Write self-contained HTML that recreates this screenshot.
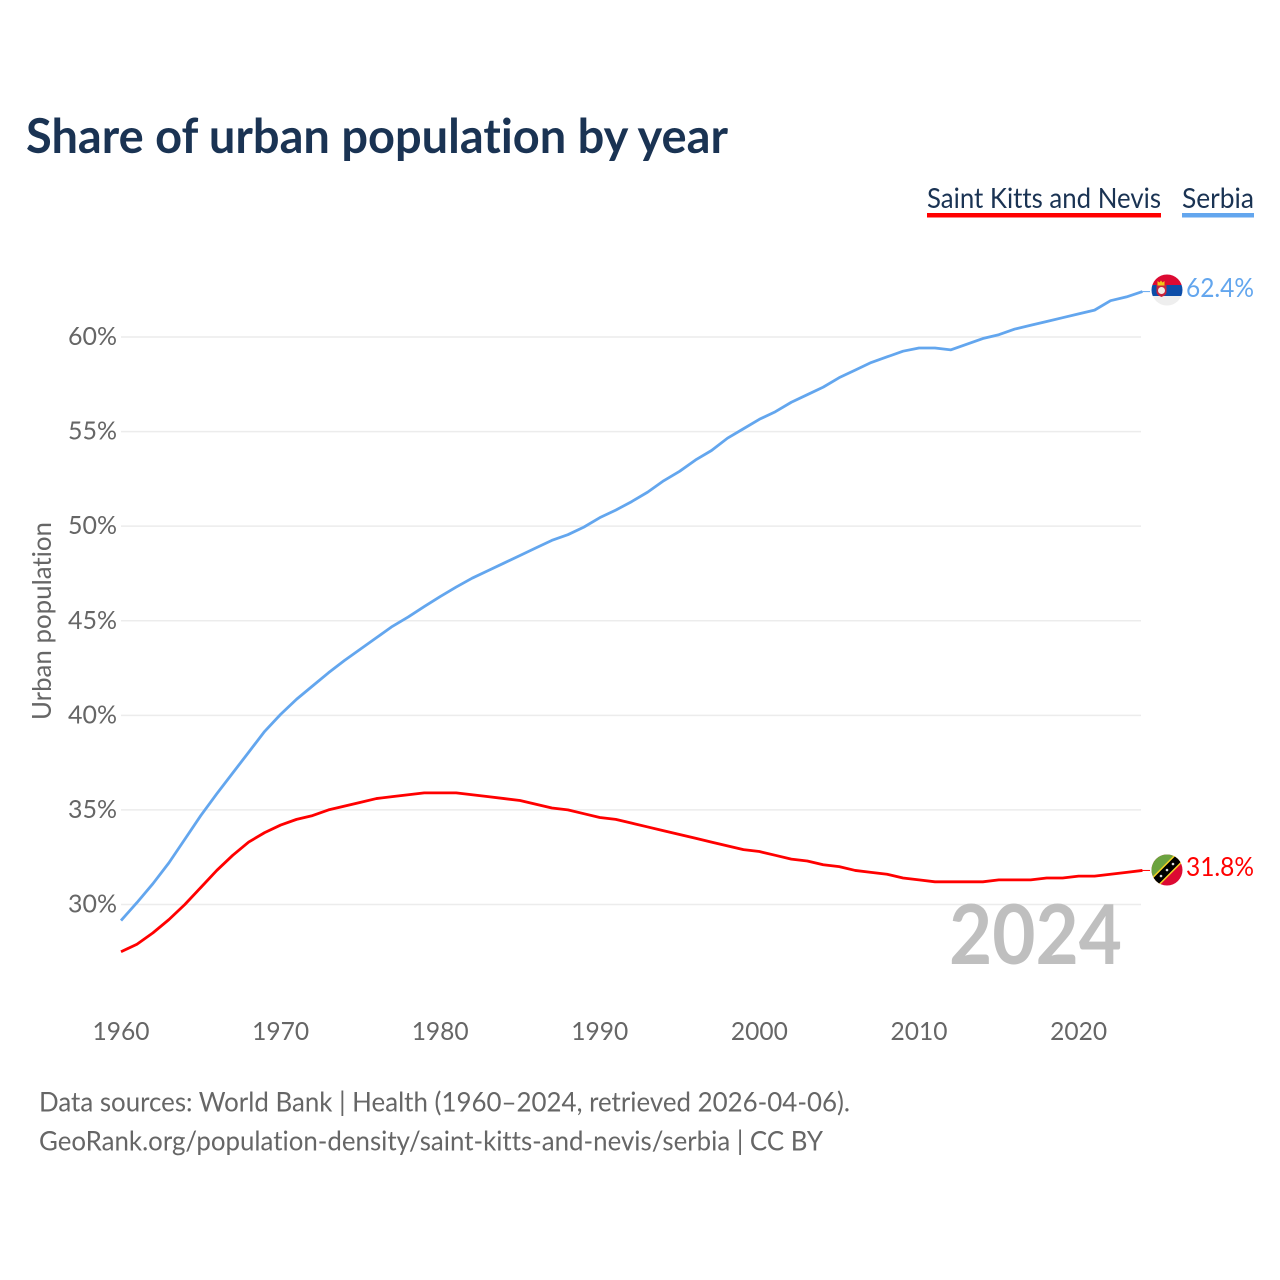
<!DOCTYPE html>
<html lang="en">
<head>
<meta charset="utf-8">
<title>Share of urban population by year</title>
<style>
html,body{margin:0;padding:0;background:#fff;}
svg{display:block;}
text{font-family:"Lato","Carlito","Liberation Sans",sans-serif;font-variant-ligatures:none;}
</style>
</head>
<body>
<svg id="chart" width="1280" height="1280" viewBox="0 0 1280 1280" xmlns="http://www.w3.org/2000/svg">
  <defs>
    <clipPath id="flag-clip-rs"><circle cx="1167" cy="290" r="15.500"/></clipPath>
    <clipPath id="flag-clip-kn"><circle cx="1167" cy="870" r="15.500"/></clipPath>
  </defs>
  <rect width="1280" height="1280" fill="#fff"/>
  <text x="26" y="153" font-size="48" font-weight="700" fill="#1a3353" textLength="702" lengthAdjust="spacingAndGlyphs">Share of urban population by year</text>

  <g>
    <text x="927" y="208" font-size="28" fill="#1a3353" textLength="234" lengthAdjust="spacingAndGlyphs">Saint Kitts and Nevis</text>
    <rect x="927" y="213" width="234" height="4.500" fill="#ff0000"/>
  </g>
  <g>
    <text x="1182" y="208" font-size="28" fill="#1a3353" textLength="72" lengthAdjust="spacingAndGlyphs">Serbia</text>
    <rect x="1182" y="213" width="72" height="4.500" fill="#63a6ee"/>
  </g>

  <g id="grid"></g>
  <g id="y-axis"></g>
  <g id="x-axis"></g>

  <text transform="translate(51,621) rotate(-90)" text-anchor="middle" font-size="26" fill="#666" textLength="198" lengthAdjust="spacingAndGlyphs">Urban population</text>

  <text x="949" y="964" font-size="82" font-weight="700" fill="#bfbfbf" textLength="173" lengthAdjust="spacingAndGlyphs">2024</text>

  <g id="series"></g>

  <g clip-path="url(#flag-clip-rs)">
    <rect x="1151" y="274" width="32" height="11" fill="#dc0a32"/>
    <rect x="1151" y="285" width="32" height="11" fill="#0c4da8"/>
    <rect x="1151" y="296" width="32" height="11" fill="#eeeeee"/>
    <path d="M1156.500 285h10v7q0 3-5 5q-5-2-5-5z" fill="#c8233c"/>
    <path d="M1157.500 281l2 1.500 1.500-2 1.500 2 2-1.500v4.500h-7z" fill="#f0c419"/>
    <circle cx="1161.500" cy="290.500" r="3.500" fill="#f1ece6"/>
  </g>
  <g clip-path="url(#flag-clip-kn)">
    <rect x="1151" y="854" width="32" height="32" fill="#dc0a32"/>
    <path d="M1151 854h32L1151 886z" fill="#6ba33f"/>
    <line x1="1148" y1="889" x2="1186" y2="851" stroke="#f5d327" stroke-width="11"/>
    <line x1="1148" y1="889" x2="1186" y2="851" stroke="#000" stroke-width="8"/>
    <circle cx="1161" cy="876" r="1.300" fill="#ddd"/>
    <circle cx="1167" cy="870" r="1.300" fill="#ddd"/>
    <circle cx="1173" cy="864" r="1.300" fill="#ddd"/>
  </g>

  <text x="1186" y="297" font-size="26.500" fill="#63a6ee" textLength="68" lengthAdjust="spacingAndGlyphs">62.4%</text>
  <text x="1186" y="876" font-size="26.500" fill="#ff0000" textLength="68" lengthAdjust="spacingAndGlyphs">31.8%</text>

  <text x="39" y="1111.500" font-size="27" fill="#666" textLength="811" lengthAdjust="spacingAndGlyphs">Data sources: World Bank | Health (1960–2024, retrieved 2026-04-06).</text>
  <text x="39" y="1150.500" font-size="27" fill="#666" textLength="784" lengthAdjust="spacingAndGlyphs">GeoRank.org/population-density/saint-kitts-and-nevis/serbia | CC BY</text>
</svg>
<script>
const years = [1960,1961,1962,1963,1964,1965,1966,1967,1968,1969,1970,1971,1972,1973,1974,1975,1976,1977,1978,1979,1980,1981,1982,1983,1984,1985,1986,1987,1988,1989,1990,1991,1992,1993,1994,1995,1996,1997,1998,1999,2000,2001,2002,2003,2004,2005,2006,2007,2008,2009,2010,2011,2012,2013,2014,2015,2016,2017,2018,2019,2020,2021,2022,2023,2024];
const serbiaValues = [29.15,30.1,31.1,32.2,33.45,34.7,35.85,36.95,38.05,39.15,40.05,40.85,41.55,42.25,42.9,43.5,44.1,44.7,45.2,45.75,46.28,46.78,47.25,47.65,48.05,48.45,48.85,49.25,49.55,49.95,50.45,50.85,51.3,51.8,52.4,52.9,53.5,54.0,54.65,55.15,55.65,56.05,56.55,56.95,57.35,57.85,58.25,58.65,58.95,59.25,59.42,59.42,59.32,59.62,59.92,60.12,60.42,60.62,60.82,61.02,61.22,61.42,61.92,62.12,62.4];
const kittsValues = [27.5,27.9,28.5,29.2,30.0,30.9,31.8,32.6,33.3,33.8,34.2,34.5,34.7,35.0,35.2,35.4,35.6,35.7,35.8,35.9,35.9,35.9,35.8,35.7,35.6,35.5,35.3,35.1,35.0,34.8,34.6,34.5,34.3,34.1,33.9,33.7,33.5,33.3,33.1,32.9,32.8,32.6,32.4,32.3,32.1,32.0,31.8,31.7,31.6,31.4,31.3,31.2,31.2,31.2,31.2,31.3,31.3,31.3,31.4,31.4,31.5,31.5,31.6,31.7,31.8];
const yTicks = [30,35,40,45,50,55,60];
const xTicks = [1960,1970,1980,1990,2000,2010,2020];

const SVG_NS = 'http://www.w3.org/2000/svg';
function xScale(year){ return 121 + (year - 1960) * (1078.6 - 121) / 60; }
function yScale(v){ return 904.5 - (v - 30) * (904.5 - 337) / 30; }

const gridGroup = document.getElementById('grid');
const yAxisGroup = document.getElementById('y-axis');
const xAxisGroup = document.getElementById('x-axis');
const seriesGroup = document.getElementById('series');

yTicks.forEach(function(t){
  const line = document.createElementNS(SVG_NS, 'line');
  
  
  line.setAttribute('x1', xScale(1960));
  line.setAttribute('x2', 1141);
  line.setAttribute('y1', yScale(t));
  line.setAttribute('y2', yScale(t));
  line.setAttribute('stroke', '#ececec');
  line.setAttribute('stroke-width', '1.500');
  gridGroup.appendChild(line);

  const label = document.createElementNS(SVG_NS, 'text');
  
  
  label.setAttribute('x', 117);
  label.setAttribute('y', yScale(t) + 8);
  label.setAttribute('text-anchor', 'end');
  label.setAttribute('font-size', '25');
  label.setAttribute('fill', '#666');
  label.setAttribute('textLength', '49');
  label.setAttribute('lengthAdjust', 'spacingAndGlyphs');
  label.textContent = t + '%';
  yAxisGroup.appendChild(label);
});

xTicks.forEach(function(t){
  const label = document.createElementNS(SVG_NS, 'text');
  
  
  label.setAttribute('x', xScale(t));
  label.setAttribute('y', 1040);
  label.setAttribute('text-anchor', 'middle');
  label.setAttribute('font-size', '25');
  label.setAttribute('fill', '#666');
  label.setAttribute('textLength', '57');
  label.setAttribute('lengthAdjust', 'spacingAndGlyphs');
  label.textContent = String(t);
  xAxisGroup.appendChild(label);
});

function drawSeries(values, color, name){
  const d = values.map(function(v, i){
    return (i ? 'L' : 'M') + xScale(years[i]).toFixed(2) + ' ' + yScale(v).toFixed(2);
  }).join('');
  const path = document.createElementNS(SVG_NS, 'path');
  
  
  path.setAttribute('d', d);
  path.setAttribute('fill', 'none');
  path.setAttribute('stroke', color);
  path.setAttribute('stroke-width', '2.800');
  path.setAttribute('stroke-linejoin', 'round');
  seriesGroup.appendChild(path);

  const lastY = yScale(values[values.length - 1]);
  const connector = document.createElementNS(SVG_NS, 'line');
  
  
  connector.setAttribute('x1', xScale(years[years.length - 1]));
  connector.setAttribute('x2', 1150);
  connector.setAttribute('y1', lastY);
  connector.setAttribute('y2', lastY);
  connector.setAttribute('stroke', color);
  connector.setAttribute('stroke-width', '1');
  seriesGroup.appendChild(connector);
}
drawSeries(serbiaValues, '#63a6ee', 'serbia-line');
drawSeries(kittsValues, '#ff0000', 'saint-kitts-and-nevis-line');
</script>
</body>
</html>
